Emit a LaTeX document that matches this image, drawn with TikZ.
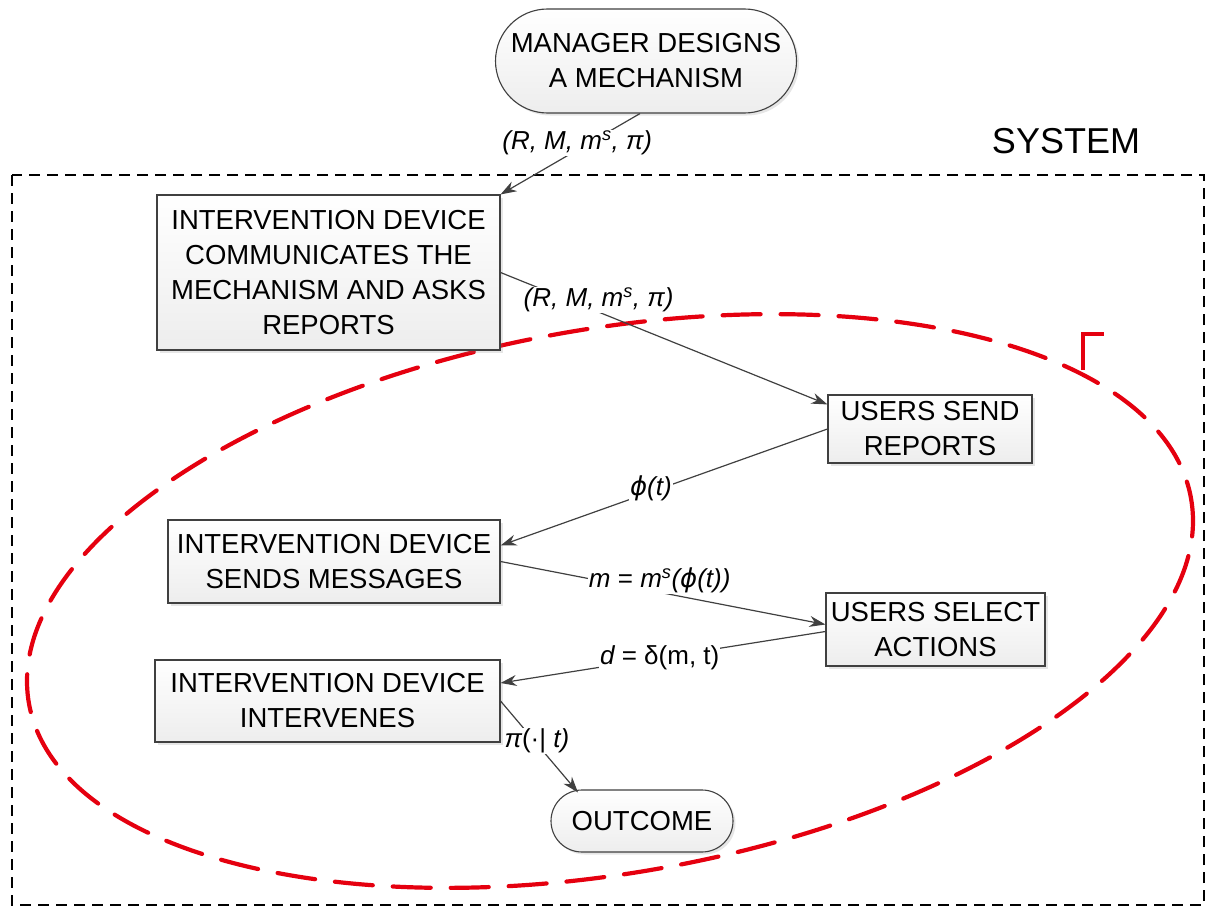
\documentclass[tikz,border=0pt]{standalone}
\usepackage{fontspec}
\setmainfont{Liberation Sans}
\newfontfamily\djv{DejaVu Sans}
\usetikzlibrary{arrows.meta,shapes.misc,shadows,calc}
\definecolor{edgecol}{HTML}{404040}
\definecolor{redd}{HTML}{E5000F}
\begin{document}
\begin{tikzpicture}[x=1pt,y=-1pt,
 box/.style={rectangle, draw=edgecol, line width=1.1pt, top color=white, bottom color=gray!14,
   drop shadow={shadow xshift=2.5pt, shadow yshift=-2.5pt, opacity=0.2, fill=gray},
   align=center, inner sep=2pt, font=\fontsize{27.5}{35}\selectfont},
 pill/.style={box, rounded rectangle},
 conn/.style={draw=edgecol, line width=1.2pt, -{Stealth[length=16pt,width=11pt]}},
 lbl/.style={fill=white, inner sep=1pt, font=\fontsize{26}{30}\selectfont\itshape},
 sysframe/.style={draw=black, line width=1.8pt, dash pattern=on 11pt off 7pt},
 redloop/.style={draw=redd, line width=4.2pt, dash pattern=on 38pt off 20pt, line cap=round},
]
\useasboundingbox (0,0) rectangle (1208,907);

% system frame
\draw[sysframe] (12,175) rectangle (1204,905);
\node[font=\fontsize{36}{40}\selectfont] (sys) at (1066,141) {SYSTEM};

% red dashed loop
\draw[redloop, rotate around={10:(610,601)}] (610,601) ellipse [x radius=590, y radius=272];
\draw[draw=redd, line width=3.5pt] (1083,370) -- (1083,334) -- (1104,334);

% nodes
\node[pill, minimum width=305pt, minimum height=104pt] (mgr) at (646,61) {MANAGER DESIGNS\\A MECHANISM};
\node[box, minimum width=343pt, minimum height=155pt] (b1) at (328.5,272.5) {INTERVENTION DEVICE\\COMMUNICATES THE\\MECHANISM AND ASKS\\REPORTS};
\node[box, minimum width=204pt, minimum height=68pt] (b2) at (930,429) {USERS SEND\\REPORTS};
\node[box, minimum width=332pt, minimum height=83pt] (b4) at (334,561.5) {INTERVENTION DEVICE\\SENDS MESSAGES};
\node[box, minimum width=219pt, minimum height=73pt] (b5) at (935.5,629.5) {USERS SELECT\\ACTIONS};
\node[box, minimum width=345pt, minimum height=82pt] (b6) at (327.5,701) {INTERVENTION DEVICE\\INTERVENES};
\node[pill, minimum width=186pt, minimum height=62pt] (out) at (642,821) {OUTCOME};

% connectors
\draw[conn] ($(mgr.south)+(-6,0)$) -- node[lbl,pos=0.45,yshift=7pt]{(R, M, m\textsuperscript{s}, π)} (b1.north east);
\draw[conn] (b1.east) -- node[lbl,pos=0.3,yshift=12pt]{(R, M, m\textsuperscript{s}, π)} ($(b2.north west)+(0,10)$);
\draw[conn] (b2.west) -- node[lbl,pos=0.54,yshift=4pt]{{\djv ϕ}(t)} ($(b4.east)+(0,-16)$);
\draw[conn] (b4.east) -- node[lbl,pos=0.49,yshift=12pt]{m {\upshape =} m\textsuperscript{s}({\djv ϕ}(t))} ($(b5.west)+(0,-5)$);
\draw[conn] ($(b5.west)+(0,2)$) -- node[lbl,pos=0.51]{d {\upshape = δ(m, t)}} ($(b6.east)+(0,-18)$);
\draw[conn] (b6.east) -- node[lbl,pos=0.47,yshift=3pt]{π{\upshape (·|} t)} ($(out.north)+(-64,3)$);
\end{tikzpicture}
\end{document}
